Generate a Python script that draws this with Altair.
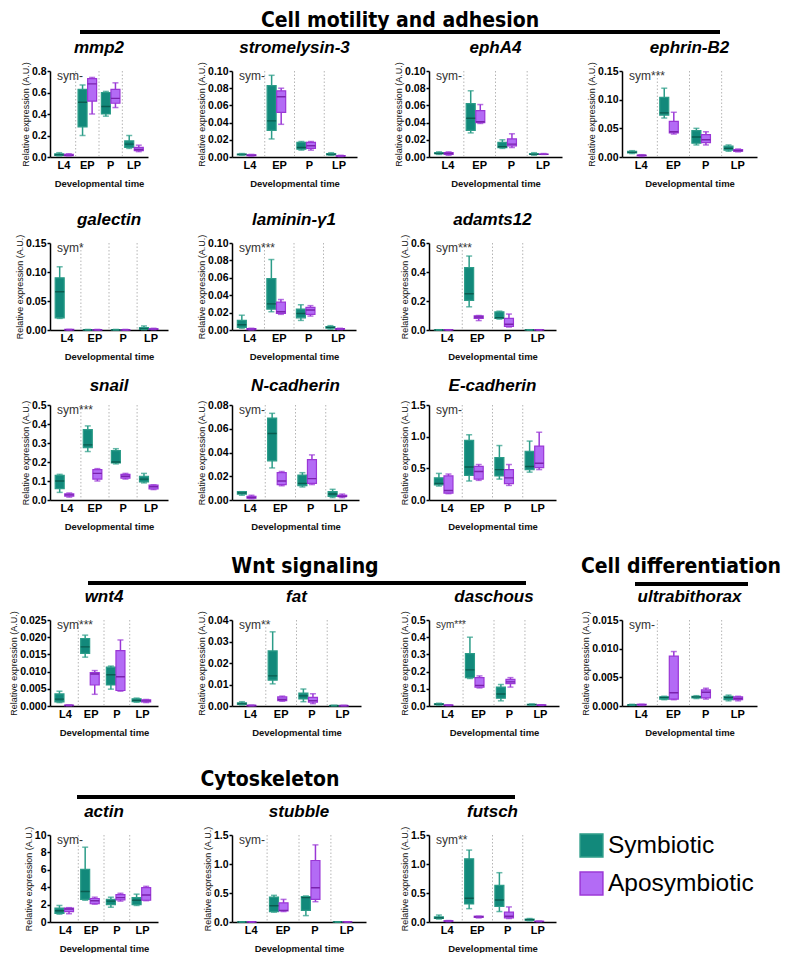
import altair as alt
import pandas as pd

# ---------------- data ----------------
STAGES = ["L4", "EP", "P", "LP"]
GROUPS = ["Symbiotic", "Aposymbiotic"]
HEADINGS = ["Cell motility and adhesion", "Wnt signaling", "Cell differentiation", "Cytoskeleton"]
Y_TITLE = "Relative expression (A.U.)"
X_TITLE = "Developmental time"

GENES = ["mmp2", "stromelysin-3", "ephA4", "ephrin-B2",
         "galectin", "laminin-\u03b31", "adamts12",
         "snail", "N-cadherin", "E-cadherin",
         "wnt4", "fat", "daschous", "ultrabithorax",
         "actin", "stubble", "futsch"]
SIG = ["sym-", "sym-", "sym-", "sym***",
       "sym*", "sym***", "sym***",
       "sym***", "sym-", "sym-",
       "sym***", "sym**", "sym***", "sym-",
       "sym-", "sym-", "sym**"]

# each box: [min, q1, median, q3, max] for L4, EP, P, LP
mmp2_sym = [[0.010, 0.015, 0.020, 0.030, 0.040], [0.20, 0.28, 0.51, 0.63, 0.67], [0.38, 0.40, 0.47, 0.60, 0.61], [0.08, 0.09, 0.12, 0.15, 0.20]]
mmp2_apo = [[0.010, 0.012, 0.015, 0.025, 0.030], [0.40, 0.52, 0.68, 0.73, 0.74], [0.46, 0.50, 0.545, 0.63, 0.69], [0.05, 0.06, 0.07, 0.09, 0.11]]
strom_sym = [[0.002, 0.0025, 0.003, 0.0035, 0.004], [0.021, 0.031, 0.042, 0.083, 0.095], [0.008, 0.009, 0.011, 0.017, 0.018], [0.002, 0.0025, 0.003, 0.004, 0.005]]
strom_apo = [[0.001, 0.0015, 0.002, 0.0025, 0.003], [0.038, 0.052, 0.070, 0.077, 0.080], [0.008, 0.010, 0.013, 0.017, 0.018], [0.0005, 0.001, 0.001, 0.0015, 0.002]]
epha4_sym = [[0.003, 0.004, 0.004, 0.005, 0.006], [0.028, 0.031, 0.045, 0.062, 0.077], [0.010, 0.011, 0.012, 0.017, 0.020], [0.002, 0.003, 0.003, 0.004, 0.005]]
epha4_apo = [[0.002, 0.003, 0.004, 0.005, 0.006], [0.039, 0.040, 0.041, 0.054, 0.061], [0.011, 0.013, 0.015, 0.021, 0.027], [0.003, 0.003, 0.003, 0.0035, 0.004]]
ephrin_sym = [[0.006, 0.007, 0.008, 0.010, 0.011], [0.068, 0.073, 0.077, 0.104, 0.120], [0.021, 0.024, 0.035, 0.046, 0.050], [0.010, 0.012, 0.015, 0.019, 0.021]]
ephrin_apo = [[0.001, 0.002, 0.003, 0.003, 0.004], [0.040, 0.042, 0.044, 0.062, 0.078], [0.021, 0.025, 0.030, 0.039, 0.044], [0.009, 0.010, 0.011, 0.013, 0.014]]
galectin_sym = [[0.020, 0.021, 0.066, 0.090, 0.109], [0.0, 0.0, 0.0003, 0.0005, 0.001], [0.0, 0.0, 0.0003, 0.0005, 0.001], [0.0005, 0.001, 0.002, 0.004, 0.007]]
galectin_apo = [[0.0, 0.0, 0.0005, 0.001, 0.001], [0.0, 0.0, 0.0003, 0.0005, 0.001], [0.0, 0.0, 0.0003, 0.0005, 0.001], [0.0005, 0.001, 0.0015, 0.002, 0.003]]
laminin_sym = [[0.002, 0.003, 0.006, 0.011, 0.017], [0.021, 0.024, 0.030, 0.059, 0.081], [0.011, 0.014, 0.019, 0.024, 0.029], [0.001, 0.002, 0.003, 0.004, 0.005]]
laminin_apo = [[0.0002, 0.0005, 0.001, 0.0015, 0.002], [0.018, 0.019, 0.021, 0.032, 0.035], [0.016, 0.018, 0.023, 0.026, 0.028], [0.0005, 0.001, 0.001, 0.0015, 0.002]]
adamts_sym = [[0.0005, 0.001, 0.001, 0.0015, 0.002], [0.16, 0.205, 0.25, 0.43, 0.51], [0.075, 0.08, 0.085, 0.125, 0.13], [0.0005, 0.001, 0.001, 0.0015, 0.002]]
adamts_apo = [[0.0005, 0.001, 0.001, 0.0015, 0.002], [0.065, 0.08, 0.09, 0.098, 0.10], [0.02, 0.025, 0.04, 0.08, 0.11], [0.0005, 0.001, 0.001, 0.0015, 0.002]]
snail_sym = [[0.04, 0.06, 0.10, 0.13, 0.135], [0.255, 0.275, 0.29, 0.37, 0.39], [0.19, 0.195, 0.20, 0.26, 0.27], [0.09, 0.095, 0.11, 0.125, 0.14]]
snail_apo = [[0.015, 0.02, 0.027, 0.033, 0.037], [0.10, 0.11, 0.14, 0.16, 0.165], [0.11, 0.115, 0.125, 0.135, 0.14], [0.055, 0.058, 0.07, 0.078, 0.08]]
ncad_sym = [[0.004, 0.005, 0.006, 0.007, 0.007], [0.027, 0.033, 0.056, 0.069, 0.073], [0.011, 0.012, 0.014, 0.021, 0.023], [0.002, 0.003, 0.005, 0.007, 0.009]]
ncad_apo = [[0.001, 0.0015, 0.002, 0.003, 0.004], [0.012, 0.013, 0.016, 0.023, 0.024], [0.013, 0.014, 0.018, 0.034, 0.038], [0.002, 0.003, 0.003, 0.004, 0.005]]
ecad_sym = [[0.22, 0.24, 0.26, 0.35, 0.42], [0.30, 0.39, 0.52, 0.94, 1.03], [0.33, 0.38, 0.48, 0.67, 0.86], [0.44, 0.48, 0.53, 0.77, 0.93]]
ecad_apo = [[0.10, 0.11, 0.15, 0.38, 0.41], [0.31, 0.33, 0.45, 0.53, 0.56], [0.23, 0.26, 0.35, 0.48, 0.56], [0.48, 0.51, 0.58, 0.85, 1.07]]
wnt4_sym = [[0.0010, 0.0012, 0.0020, 0.0035, 0.0043], [0.0142, 0.0153, 0.0172, 0.0196, 0.0206], [0.0049, 0.0061, 0.0091, 0.0113, 0.0116], [0.0011, 0.0013, 0.0016, 0.0021, 0.0023]]
wnt4_apo = [[0.0001, 0.0001, 0.0002, 0.0002, 0.0003], [0.0034, 0.0061, 0.0093, 0.0097, 0.0103], [0.0043, 0.0045, 0.0085, 0.0161, 0.0192], [0.0010, 0.0012, 0.0015, 0.0018, 0.0019]]
fat_sym = [[0.0005, 0.0008, 0.0010, 0.0015, 0.0020], [0.0103, 0.0120, 0.0140, 0.0256, 0.0345], [0.0020, 0.0033, 0.0047, 0.0060, 0.0079], [0.0001, 0.0001, 0.0002, 0.0002, 0.0003]]
fat_apo = [[0.0001, 0.0001, 0.0002, 0.0003, 0.0004], [0.0022, 0.0025, 0.0030, 0.0042, 0.0046], [0.0011, 0.0018, 0.0025, 0.0040, 0.0057], [0.0001, 0.0001, 0.0002, 0.0002, 0.0003]]
dasch_sym = [[0.005, 0.008, 0.010, 0.013, 0.016], [0.16, 0.165, 0.21, 0.305, 0.40], [0.03, 0.045, 0.07, 0.11, 0.125], [0.004, 0.006, 0.008, 0.010, 0.012]]
dasch_apo = [[0.002, 0.003, 0.004, 0.005, 0.006], [0.105, 0.11, 0.12, 0.165, 0.175], [0.11, 0.13, 0.14, 0.155, 0.165], [0.003, 0.004, 0.005, 0.006, 0.007]]
ubx_sym = [[0.0001, 0.0001, 0.0002, 0.0002, 0.0003], [0.0011, 0.0012, 0.0015, 0.0016, 0.0017], [0.0013, 0.0014, 0.0016, 0.0017, 0.0018], [0.0009, 0.0011, 0.0015, 0.0017, 0.0019]]
ubx_apo = [[0.0001, 0.0002, 0.0002, 0.0003, 0.0003], [0.0011, 0.0012, 0.0023, 0.0087, 0.0095], [0.0012, 0.0014, 0.0024, 0.0028, 0.0031], [0.0009, 0.0011, 0.0013, 0.0016, 0.0017]]
actin_sym = [[0.9, 1.0, 1.3, 1.6, 1.9], [2.5, 2.6, 3.5, 6.05, 8.6], [1.7, 2.0, 2.4, 2.6, 2.85], [1.9, 2.0, 2.5, 2.8, 3.2]]
actin_apo = [[0.95, 1.2, 1.5, 1.6, 1.65], [2.05, 2.1, 2.45, 2.7, 2.85], [2.4, 2.55, 2.8, 3.15, 3.3], [2.45, 2.5, 3.1, 3.95, 4.1]]
stubble_sym = [[0.001, 0.001, 0.002, 0.002, 0.003], [0.17, 0.18, 0.28, 0.43, 0.46], [0.11, 0.20, 0.42, 0.44, 0.45], [0.001, 0.001, 0.002, 0.002, 0.003]]
stubble_apo = [[0.001, 0.001, 0.002, 0.002, 0.003], [0.18, 0.19, 0.20, 0.33, 0.39], [0.35, 0.39, 0.59, 1.06, 1.33], [0.001, 0.001, 0.002, 0.002, 0.003]]
futsch_sym = [[0.05, 0.06, 0.07, 0.09, 0.12], [0.23, 0.31, 0.41, 1.09, 1.24], [0.18, 0.27, 0.38, 0.63, 0.85], [0.02, 0.03, 0.04, 0.05, 0.06]]
futsch_apo = [[0.005, 0.01, 0.015, 0.02, 0.025], [0.07, 0.08, 0.09, 0.10, 0.10], [0.06, 0.07, 0.10, 0.17, 0.26], [0.005, 0.008, 0.01, 0.012, 0.015]]

SYM = [mmp2_sym, strom_sym, epha4_sym, ephrin_sym, galectin_sym, laminin_sym, adamts_sym,
       snail_sym, ncad_sym, ecad_sym, wnt4_sym, fat_sym, dasch_sym, ubx_sym,
       actin_sym, stubble_sym, futsch_sym]
APO = [mmp2_apo, strom_apo, epha4_apo, ephrin_apo, galectin_apo, laminin_apo, adamts_apo,
       snail_apo, ncad_apo, ecad_apo, wnt4_apo, fat_apo, dasch_apo, ubx_apo,
       actin_apo, stubble_apo, futsch_apo]

# y-axis tick labels of each panel
TICKS = [
    [0.0, 0.2, 0.4, 0.6, 0.8],
    [0.00, 0.02, 0.04, 0.06, 0.08, 0.10],
    [0.00, 0.02, 0.04, 0.06, 0.08, 0.10],
    [0.00, 0.05, 0.10, 0.15],
    [0.00, 0.05, 0.10, 0.15],
    [0.00, 0.02, 0.04, 0.06, 0.08, 0.10],
    [0.0, 0.2, 0.4, 0.6],
    [0.0, 0.1, 0.2, 0.3, 0.4, 0.5],
    [0.00, 0.02, 0.04, 0.06, 0.08],
    [0.0, 0.5, 1.0, 1.5],
    [0.000, 0.005, 0.010, 0.015, 0.020, 0.025],
    [0.00, 0.01, 0.02, 0.03, 0.04],
    [0.0, 0.1, 0.2, 0.3, 0.4, 0.5],
    [0.000, 0.005, 0.010, 0.015],
    [0, 2, 4, 6, 8, 10],
    [0.0, 0.5, 1.0, 1.5],
    [0.0, 0.5, 1.0, 1.5],
]
FMT = [".1f", ".2f", ".2f", ".2f", ".2f", ".2f", ".1f", ".1f", ".2f", ".1f",
       ".3f", ".2f", ".1f", ".3f", "d", ".1f", ".1f"]

# ---------------- layout & style ----------------
FONT = "Liberation Sans, Arial, sans-serif"
HFONT = "Liberation Sans Narrow, DejaVu Sans Condensed, Arial Narrow, sans-serif"
FILL = ["#12897b", "#b36bf5"]
EDGE = ["#2b9c88", "#9a37d6"]
MED = ["#0a5c50", "#7a22ad"]

COL_W = [42, 119, 64, 134, 63, 133, 60, 135]          # grid column widths (spacers / plot areas)
PANEL_W = [[98, 125, 133, 135],
           [118, 124, 127],
           [118, 127, 127],
           [108, 129, 130, 135],
           [108, 134, 127]]
ROW_H = [86, 87, 95, 86, 87]

LEG = alt.Legend(title=None, orient="none", legendX=571, legendY=825, direction="vertical",
                 symbolType="square", symbolSize=520, symbolStrokeWidth=1.5, symbolOpacity=1,
                 labelFontSize=24.5, labelFont=FONT, labelColor="black", labelFontWeight="normal",
                 rowPadding=9, labelOffset=4, labelLimit=300)


def is_sym():
    return alt.datum.group == GROUPS[0]


def panel(i, w, h):
    rows = []
    for g, stats in zip(GROUPS, (SYM[i], APO[i])):
        for st, s in zip(STAGES, stats):
            rows.append({"stage": st, "group": g, "lo": s[0], "q1": s[1],
                         "med": s[2], "q3": s[3], "hi": s[4]})
    df = pd.DataFrame(rows)
    ticks = TICKS[i]
    xs = alt.Scale(domain=STAGES, paddingInner=0, paddingOuter=0.1)
    ys = alt.Scale(domain=[0, ticks[-1]], nice=False, zero=True)
    xaxis = alt.Axis(title=X_TITLE, labelAngle=0, ticks=False, tickSize=0, labelPadding=2,
                     labelFontSize=11, titleFontSize=9.5, titleFontWeight="bold", titlePadding=8)
    yaxis = alt.Axis(title=Y_TITLE, values=ticks, format=FMT[i], tickSize=3, labelPadding=1,
                     labelFontSize=10.5, titleFontSize=9, titleFontWeight="normal", titlePadding=1,
                     labelFlush=False, labelOverlap=False)
    x = alt.X("stage:N", scale=xs, sort=STAGES, axis=xaxis)
    xo = alt.XOffset("group:N", sort=GROUPS,
                     scale=alt.Scale(domain=GROUPS, paddingInner=0.06, paddingOuter=0.25))

    def Y(f):
        return alt.Y(f"{f}:Q", scale=ys, axis=yaxis)

    edge = alt.condition(is_sym(), alt.value(EDGE[0]), alt.value(EDGE[1]))
    med_c = alt.condition(is_sym(), alt.value(MED[0]), alt.value(MED[1]))

    seps = alt.Chart(pd.DataFrame({"stage": STAGES[1:]})).mark_rule(
        color="#b5b5b5", strokeDash=[1.5, 2], strokeWidth=1
    ).encode(x=alt.X("stage:N", scale=xs, sort=STAGES, axis=xaxis, bandPosition=0),
             y=alt.value(0), y2=alt.value(h))
    base = alt.Chart(df)
    whisk = base.mark_rule(strokeWidth=1.5).encode(x=x, xOffset=xo, y=Y("lo"), y2="hi:Q", color=edge)
    box = base.mark_bar(strokeWidth=1.2).encode(
        x=x, xOffset=xo, y=Y("q1"), y2="q3:Q",
        fill=alt.Fill("group:N", sort=GROUPS, scale=alt.Scale(domain=GROUPS, range=FILL), legend=LEG),
        stroke=alt.Stroke("group:N", sort=GROUPS, scale=alt.Scale(domain=GROUPS, range=EDGE), legend=LEG))
    med = base.mark_bar(strokeWidth=1.4, fillOpacity=0).encode(
        x=x, xOffset=xo, y=Y("med"), y2="med:Q", stroke=med_c)
    cap_lo = base.mark_tick(size=6, thickness=1.5).encode(x=x, xOffset=xo, y=Y("lo"), color=edge)
    cap_hi = base.mark_tick(size=6, thickness=1.5).encode(x=x, xOffset=xo, y=Y("hi"), color=edge)
    sym = alt.Chart(pd.DataFrame({"t": [SIG[i]]})).mark_text(
        align="left", baseline="middle", font=FONT, fontSize=10 if GENES[i] == "daschous" else 12,
        color="#333333"
    ).encode(x=alt.value(7), y=alt.value(5), text="t:N")
    return alt.layer(seps, whisk, box, med, cap_lo, cap_hi, sym).properties(
        width=w, height=h,
        title=alt.TitleParams(GENES[i], font=FONT, fontSize=17, fontStyle="italic", fontWeight="bold",
                              anchor="middle", frame="group", offset=5, color="black"))


def spacer(w=1, h=1):
    return alt.Chart(pd.DataFrame({"v": [0]})).mark_point(size=0, strokeWidth=0, opacity=0).encode(
        x=alt.value(0), y=alt.value(0)).properties(width=w, height=h)


def heading(h, texts, rules):
    layers = []
    for t, xp, yp, al in texts:
        layers.append(alt.Chart(pd.DataFrame({"t": [t]})).mark_text(
            font=HFONT, fontSize=21, fontWeight="bold", align=al, baseline="middle", color="black"
        ).encode(x=alt.value(xp), y=alt.value(yp), text="t:N"))
    for x1, x2, yp in rules:
        layers.append(alt.Chart(pd.DataFrame({"v": [0]})).mark_rule(strokeWidth=4, color="black").encode(
            x=alt.value(x1), x2=alt.value(x2), y=alt.value(yp)))
    return alt.layer(*layers).properties(width=1, height=h)


def filler(first):
    return [first] + [spacer() for _ in range(7)]


def panel_row(r, start):
    cells = [spacer(COL_W[0])]
    n = len(PANEL_W[r])
    for k in range(4):
        if k < n:
            cells.append(panel(start + k, PANEL_W[r][k], ROW_H[r]))
        else:
            cells.append(spacer())
        if k < 3:
            cells.append(spacer(COL_W[2 * k + 2]))
    return cells


cells = []
cells += filler(heading(63, [(HEADINGS[0], 392, 13, "center")], [(72, 712, 24)]))
cells += panel_row(0, 0)
cells += filler(spacer(1, 86))
cells += panel_row(1, 4)
cells += filler(spacer(1, 75))
cells += panel_row(2, 7)
cells += filler(heading(120, [(HEADINGS[1], 297, 67, "center"), (HEADINGS[2], 773, 67, "right")],
                        [(80, 518, 83), (627, 740, 84)]))
cells += panel_row(3, 10)
cells += filler(heading(129, [(HEADINGS[3], 262, 74, "center")], [(69, 507, 91)]))
cells += panel_row(4, 14)

chart = alt.concat(
    *cells, columns=8, spacing=0, bounds="flush", align="each"
).properties(
    padding={"left": 0, "top": 0, "right": 0, "bottom": 0}
).configure_view(stroke=None).configure_axis(
    labelFont=FONT, titleFont=FONT, labelFontWeight="bold", labelColor="black", titleColor="#111111",
    domainColor="black", domainWidth=1.5, tickColor="black", tickWidth=1.5, grid=False
)

chart.save("out.html", embed_options={"renderer": "svg", "actions": False})
